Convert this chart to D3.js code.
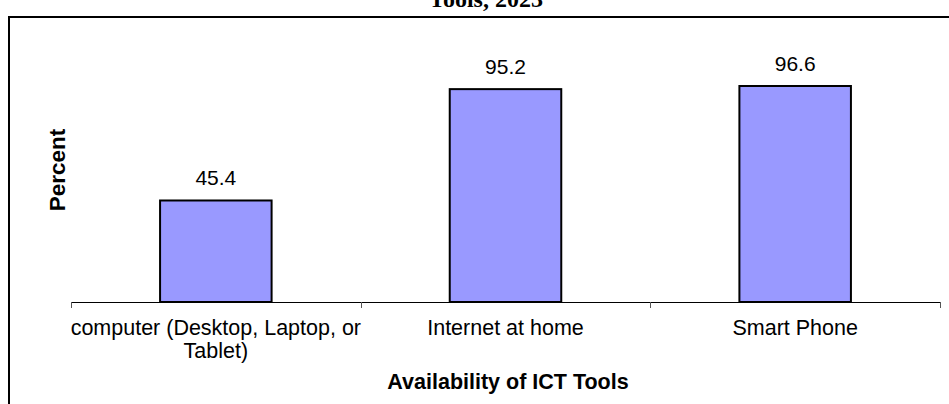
<!DOCTYPE html>
<html><head><meta charset="utf-8">
<script src="https://cdn.jsdelivr.net/npm/d3@7"></script>
<style>body{margin:0;background:#fff}svg{display:block}</style>
</head><body>
<script>
const categories = [["computer (Desktop, Laptop, or", "Tablet)"], ["Internet at home"], ["Smart Phone"]];
const values = [45.4, 95.2, 96.6];
const titleText = "Tools, 2023";
const xTitle = "Availability of ICT Tools";
const yTitle = "Percent";

const W = 949, H = 404;
const svg = d3.select("body").append("svg").attr("width", W).attr("height", H);

// frame
svg.append("path").attr("d", `M9,${H} V17 H${W}`).attr("fill", "none").attr("stroke", "#000").attr("stroke-width", 2);
svg.append("text").attr("x", 486).attr("y", 7).attr("text-anchor", "middle")
  .attr("font-family", "Liberation Serif, Times New Roman, serif").attr("font-weight", "bold").attr("font-size", 24)
  .text(titleText);

const idx = categories.map((d, i) => i);
const x = d3.scaleBand().domain(idx).range([71, 940]).paddingInner(0.615).paddingOuter(0.3075);
const xb = d3.scaleBand().domain(idx).range([71, 940]).padding(0);
const y = d3.scaleLinear().domain([0, 100]).range([302, 78.4]);

// bars
svg.append("g").selectAll("rect").data(values).join("rect")
  .attr("x", (d, i) => x(i)).attr("width", x.bandwidth())
  .attr("y", d => y(d)).attr("height", d => y(0) - y(d))
  .attr("fill", "#9999FF").attr("stroke", "#000").attr("stroke-width", 2);

// axis
const ax = svg.append("g").attr("stroke", "#000");
ax.append("line").attr("x1", 71).attr("x2", 940).attr("y1", y(0)+0.5).attr("y2", y(0)+0.5).attr("stroke-width", 1);
const tickPos = idx.map(i => xb(i)).concat([xb.range()[1]]);
ax.selectAll("line.t").data(tickPos).join("line").attr("class", "t")
  .attr("x1", d => Math.round(d)+0.5).attr("x2", d => Math.round(d)+0.5)
  .attr("y1", y(0)).attr("y2", y(0)+6).attr("stroke", "#555").attr("stroke-width", 1);

const font = "Liberation Sans, Arial, sans-serif";
// value labels
svg.append("g").selectAll("text").data(values).join("text")
  .attr("x", (d, i) => x(i) + x.bandwidth()/2).attr("y", d => y(d) - 15)
  .attr("text-anchor", "middle").attr("font-family", font).attr("font-size", 21).attr("fill", "#000")
  .text(d => d.toFixed(1));

// category labels
const cl = svg.append("g").selectAll("text").data(categories).join("text")
  .attr("x", (d, i) => xb(i) + xb.bandwidth()/2).attr("y", 335)
  .attr("text-anchor", "middle").attr("font-family", font).attr("font-size", 21.5).attr("fill", "#000");
cl.selectAll("tspan").data(d => d).join("tspan")
  .attr("x", function() { return this.parentNode.getAttribute("x"); })
  .attr("dy", (d, j) => j === 0 ? 0 : 23).text(d => d);

// axis titles
svg.append("text").attr("x", 508).attr("y", 389).attr("text-anchor", "middle")
  .attr("font-family", font).attr("font-weight", "bold").attr("font-size", 21.5).text(xTitle);
svg.append("text").attr("transform", "translate(65,170) rotate(-90)").attr("text-anchor", "middle")
  .attr("font-family", font).attr("font-weight", "bold").attr("font-size", 22.5).text(yTitle);
</script>
</body></html>
